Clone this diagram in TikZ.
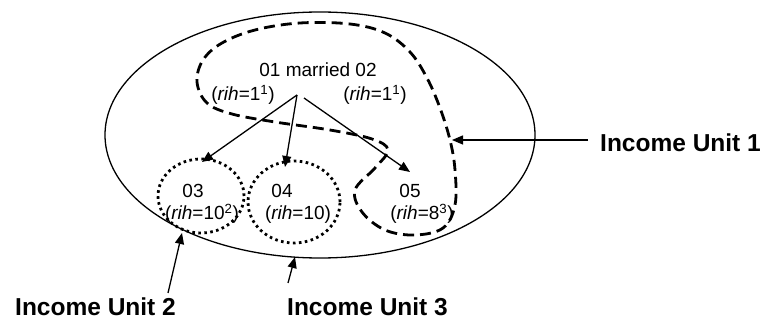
\documentclass[tikz,border=0pt]{standalone}
\usepackage{fontspec}
\setmainfont{Liberation Sans}
\usetikzlibrary{arrows.meta,shapes.geometric}
\begin{document}
\begin{tikzpicture}[x=1pt,y=-1pt,
  lbl/.style={font=\fontsize{19}{22}\selectfont, inner sep=0pt, anchor=base},
  unitlbl/.style={font=\fontsize{24.5}{28}\selectfont\bfseries, inner sep=0pt, anchor=base west},
  conn/.style={line width=1.3pt, -{Triangle[length=11pt,width=9pt]}},
  iuone/.style={line width=2.8pt, dash pattern=on 11pt off 6pt},
  dotc/.style={draw, ellipse, line width=2.8pt, dash pattern=on 2.6pt off 3.4pt, inner sep=0pt},
  outer/.style={draw, ellipse, line width=1.3pt, inner sep=0pt}]
\useasboundingbox (0,0) rectangle (765,320);
% outer ellipse (Income Unit 3)
\node[outer, minimum width=430pt, minimum height=246pt] (big) at (320,135) {};
% dotted circles (Income Unit 2 and 04)
\node[dotc, minimum width=86pt, minimum height=74pt] (c03) at (201,196) {};
\node[dotc, minimum width=92pt, minimum height=82pt] (c04) at (294,202) {};
% dashed loop (Income Unit 1)
\draw[iuone] plot[smooth cycle, tension=0.6] coordinates {
  (388,150) (375,168) (355,190) (362,212) (385,230) (415,235) (443,228)
  (455,205) (455,170) (450,140) (440,108) (427,78) (410,52) (385,33)
  (350,24) (300,23) (255,30) (222,43) (203,60) (197,82) (207,103)
  (232,114) (275,122) (330,130) (372,139)};
% texts
\node[lbl] (married) at (318,77) {01 married 02};
\node[lbl] (r1) at (243,101) {(\textit{rih}=1\textsuperscript{1})};
\node[lbl] (r2) at (375,101) {(\textit{rih}=1\textsuperscript{1})};
\node[lbl] (n03) at (193,198) {03};
\node[lbl] (r03) at (202,220) {(\textit{rih}=10\textsuperscript{2})};
\node[lbl] (n04) at (282,198) {04};
\node[lbl] (r04) at (298,220) {(\textit{rih}=10)};
\node[lbl] (n05) at (410,198) {05};
\node[lbl] (r05) at (422,220) {(\textit{rih}=8\textsuperscript{3})};
% parent arrows
\coordinate (pa) at (297,95);
\coordinate (pb) at (304,98);
\coordinate (t03) at (202,162);
\coordinate (t04) at (285,167);
\coordinate (t05) at (410,172);
\draw[conn] (pa) -- (t03);
\draw[conn] (pa) -- (t04);
\draw[conn] (pb) -- (t05);
% income unit labels
\node[unitlbl] (iu1) at (600,152) {Income Unit 1};
\node[unitlbl] (iu2) at (15,315) {Income Unit 2};
\node[unitlbl] (iu3) at (287,315) {Income Unit 3};
\coordinate (a1s) at (588,140);
\coordinate (a1e) at (452,140);
\coordinate (a2s) at (168,293);
\coordinate (a2e) at (182,233);
\coordinate (a3s) at (288,283);
\coordinate (a3e) at (295,257);
\draw[conn] (a1s) -- (a1e);
\draw[conn] (a2s) -- (a2e);
\draw[conn] (a3s) -- (a3e);
\end{tikzpicture}
\end{document}
